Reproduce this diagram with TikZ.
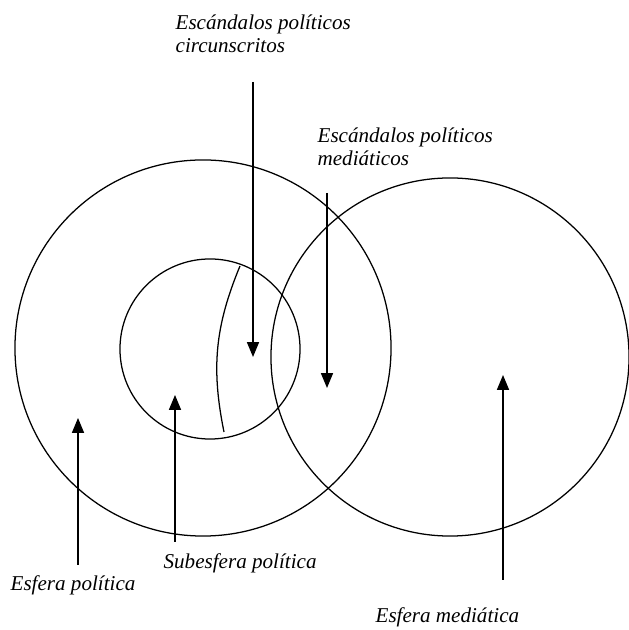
\documentclass[tikz,border=0pt]{standalone}
\usepackage{fontspec}
\setmainfont{Liberation Serif}
\usetikzlibrary{
  arrows.meta,
  positioning
}
\tikzset{
  sphere/.style={
    circle,
    draw,
    line width=0.9pt,
    inner sep=0pt
  },
  tag/.style={
    font=\fontsize{15}{16.5}\selectfont\itshape,
    align=left,
    anchor=west,
    inner sep=0pt
  }
}

\begin{document}
\begin{tikzpicture}[
      >={Triangle[length=10.5pt,width=8.5pt]},
      x=0.025cm, y=0.025cm,
      line width=0.9pt
      ]
      \useasboundingbox (0,0) rectangle (629,630);

      % spheres
      \node[sphere, minimum size=9.4cm] (pol) at (203,282) {};
      \node[sphere, minimum size=4.5cm] (sub) at (210,281) {};
      \node[sphere, minimum size=8.95cm] (med) at (450,273) {};

      % border of the circumscribed scandals
      \coordinate (bTop) at (240,364);
      \coordinate (bBot) at (224,198);
      \draw (bTop) to[bend right=17] (bBot);

      % labels
      \node[tag] (circ) at (175,596) {Escándalos políticos\\circunscritos};
      \node[tag] (medi) at (317,483) {Escándalos políticos\\mediáticos};
      \node[tag] (subl) at (163,67) {Subesfera política};
      \node[tag] (poll) at (10,45) {Esfera política};
      \node[tag] (medl) at (375,13) {Esfera mediática};

      % arrows
      \foreach \n/\x/\a/\b in {c/253/548/273, m/327/437/242, s/175/88/235,
                               p/78/65/212, e/503/50/255}{
        \coordinate (\n Tail) at (\x,\a);
        \coordinate (\n Tip) at (\x,\b);
        \draw[->] (\n Tail) -- (\n Tip);
      }
\end{tikzpicture}
\end{document}
